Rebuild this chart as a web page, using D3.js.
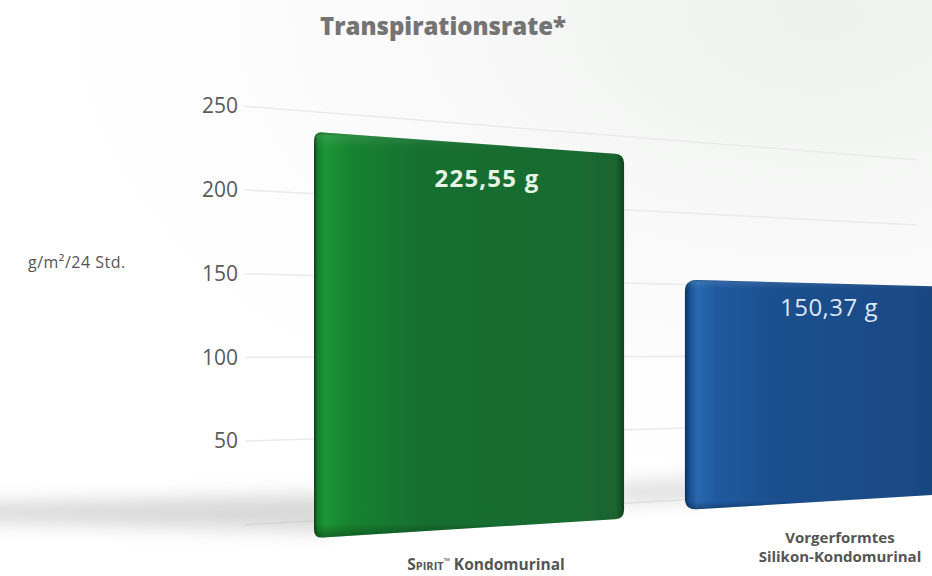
<!DOCTYPE html>
<html><head><meta charset="utf-8">
<script src="https://cdn.jsdelivr.net/npm/d3@7"></script>
<style>body{margin:0;background:#fff;} svg{display:block;}</style>
</head><body><svg id="c" width="932" height="576"></svg>
<script>
// ---- data ----
const categories = ["Spirit Kondomurinal", "Vorgerformtes Silikon-Kondomurinal"];
const values = [225.55, 150.37];
const valueLabels = ["225,55 g", "150,37 g"];
const tickValues = [50, 100, 150, 200, 250];
const gridValues = [0, 50, 100, 150, 200, 250];
const title = "Transpirationsrate*";
const yLabel = "g/m²/24 Std.";

// ---- layout ----
const W = 932, Hh = 576;
const HOR = 350, VPX = 3310, AXIS_X = 242;
const depth = [1.075, 0.914];
const svg = d3.select("#c");
const defs = svg.append("defs");

const y = d3.scaleLinear().domain([0, 250]).range([525, 106]);
const x = d3.scaleBand().domain(categories).range([314, 995]).paddingInner(0.164);

function persp(yAtX0, x0, x1) { return HOR + (yAtX0 - HOR) * (VPX - x1) / (VPX - x0); }

// background
const bg = defs.append("radialGradient").attr("id", "bg").attr("cx", "0.88").attr("cy", "0.02").attr("r", "0.85");
bg.append("stop").attr("offset", "0").attr("stop-color", "#eef0ee");
bg.append("stop").attr("offset", "0.55").attr("stop-color", "#f9faf9");
bg.append("stop").attr("offset", "1").attr("stop-color", "#ffffff");
svg.append("rect").attr("width", W).attr("height", Hh).attr("fill", "url(#bg)");

// blur filter
const blur = defs.append("filter").attr("id", "blur").attr("x", "-50%").attr("y", "-50%").attr("width", "200%").attr("height", "200%");
blur.append("feGaussianBlur").attr("stdDeviation", 9);

// gridlines
svg.append("g").selectAll("line").data(gridValues).join("line")
  .attr("x1", AXIS_X + 3).attr("y1", d => persp(y(d), AXIS_X, AXIS_X + 3))
  .attr("x2", 917).attr("y2", d => persp(y(d), AXIS_X, 917))
  .attr("stroke", "#e9eae9").attr("stroke-width", 1.5);

// tick labels via axis
const axis = svg.append("g").attr("transform", `translate(${AXIS_X},0)`)
  .call(d3.axisLeft(y).tickValues(tickValues).tickSize(0).tickPadding(4));
axis.select(".domain").remove();
axis.selectAll("text").attr("fill", "#5a5a5a").attr("font-size", 21)
  .attr("font-family", "'Open Sans', sans-serif").attr("font-weight", 400);

// floor shadows
svg.append("path")
  .attr("d", "M-30,503 L330,494 L330,532 L-30,522 Z")
  .attr("fill", "#b9b9b9").attr("opacity", 0.55).attr("filter", "url(#blur)");
svg.append("path")
  .attr("d", "M620,482 L700,478 L700,500 L620,505 Z")
  .attr("fill", "#c2c2c2").attr("opacity", 0.5).attr("filter", "url(#blur)");

// bar gradients
const palettes = [
  [["0", "#0d3d18"], ["0.012", "#157f2b"], ["0.035", "#1c9636"], ["0.12", "#178330"], ["0.35", "#166f30"], ["0.85", "#186b31"], ["0.975", "#1a6430"], ["1", "#10421c"]],
  [["0", "#0e2f5a"], ["0.015", "#1a4f8f"], ["0.04", "#2768b0"], ["0.1", "#1f5aa0"], ["0.3", "#1b4f8e"], ["0.7", "#1a4a86"], ["1", "#163e70"]]
];

function roundedPath(pts, r) {
  let d = "";
  const n = pts.length;
  for (let i = 0; i < n; i++) {
    const p0 = pts[(i - 1 + n) % n], p1 = pts[i], p2 = pts[(i + 1) % n];
    const l1 = Math.hypot(p0[0] - p1[0], p0[1] - p1[1]);
    const l2 = Math.hypot(p2[0] - p1[0], p2[1] - p1[1]);
    const a = [p1[0] + (p0[0] - p1[0]) * r / l1, p1[1] + (p0[1] - p1[1]) * r / l1];
    const b = [p1[0] + (p2[0] - p1[0]) * r / l2, p1[1] + (p2[1] - p1[1]) * r / l2];
    d += (i === 0 ? "M" : "L") + a[0] + "," + a[1] + " Q" + p1[0] + "," + p1[1] + " " + b[0] + "," + b[1];
  }
  return d + "Z";
}

const bars = categories.map((c, i) => {
  const xl = x(c), xr = xl + x.bandwidth();
  const f = depth[i];
  const yTopL = HOR + (y(values[i]) - HOR) * f;
  const yBotL = HOR + (y(0) - HOR) * f;
  return {
    i, xl, xr,
    pts: [[xl, yTopL], [xr, persp(yTopL, xl, xr)], [xr, persp(yBotL, xl, xr)], [xl, yBotL]]
  };
});

bars.forEach(b => {
  const g = defs.append("linearGradient").attr("id", "bar" + b.i)
    .attr("gradientUnits", "userSpaceOnUse").attr("x1", b.xl).attr("x2", b.xr).attr("y1", 0).attr("y2", 0);
  palettes[b.i].forEach(s => g.append("stop").attr("offset", s[0]).attr("stop-color", s[1]));
  const v = defs.append("linearGradient").attr("id", "barv" + b.i).attr("x1", 0).attr("x2", 0).attr("y1", 0).attr("y2", 1);
  v.append("stop").attr("offset", "0").attr("stop-color", "#000").attr("stop-opacity", 0.25);
  v.append("stop").attr("offset", "0.012").attr("stop-color", "#fff").attr("stop-opacity", 0.08);
  v.append("stop").attr("offset", "0.04").attr("stop-color", "#fff").attr("stop-opacity", 0);
  v.append("stop").attr("offset", "0.965").attr("stop-color", "#000").attr("stop-opacity", 0);
  v.append("stop").attr("offset", "1").attr("stop-color", "#000").attr("stop-opacity", 0.3);
});

const barG = svg.append("g");
barG.selectAll("path.face").data(bars).join("path").attr("class", "face")
  .attr("d", b => roundedPath(b.pts, b.i === 0 ? 9 : 12))
  .attr("fill", b => `url(#bar${b.i})`);
barG.selectAll("path.shade").data(bars).join("path").attr("class", "shade")
  .attr("d", b => roundedPath(b.pts, b.i === 0 ? 9 : 12))
  .attr("fill", b => `url(#barv${b.i})`);

// value labels
const valuePos = [[487, 187], [829, 316]];
svg.selectAll("text.val").data(valueLabels).join("text").attr("class", "val")
  .attr("x", (d, i) => valuePos[i][0]).attr("y", (d, i) => valuePos[i][1])
  .attr("text-anchor", "middle")
  .attr("font-family", "'Open Sans', sans-serif")
  .attr("font-size", 24)
  .attr("font-weight", (d, i) => i === 0 ? 700 : 400)
  .attr("letter-spacing", (d, i) => i === 0 ? 1.2 : 0.5)
  .attr("fill", (d, i) => i === 0 ? "#e6f4e4" : "#dce7f4")
  .text(d => d);

// title
svg.append("text").attr("x", 443).attr("y", 35).attr("text-anchor", "middle")
  .attr("font-family", "'Open Sans', sans-serif").attr("font-weight", 800).attr("font-size", 24)
  .attr("fill", "#747474").text(title);

// y label
svg.append("text").attr("x", 28).attr("y", 268)
  .attr("font-family", "'Open Sans', sans-serif").attr("font-size", 16).attr("fill", "#555")
  .attr("letter-spacing", 0.5)
  .text(yLabel);

// category labels
const catFont = "'Open Sans', sans-serif";
const c1 = svg.append("text").attr("x", x(categories[0]) + x.bandwidth() / 2 + 17).attr("y", 570)
  .attr("text-anchor", "middle").attr("font-family", catFont).attr("font-weight", 700)
  .attr("font-size", 15.5).attr("fill", "#555");
c1.append("tspan").attr("font-variant", "small-caps").text("Spirit");
c1.append("tspan").attr("font-size", 8).attr("dy", -6).text("™");
c1.append("tspan").attr("dy", 6).text(" Kondomurinal");

const c2 = svg.append("text").attr("text-anchor", "middle").attr("font-family", catFont)
  .attr("font-weight", 700).attr("font-size", 15).attr("fill", "#555");
const cx2 = x(categories[1]) + x.bandwidth() / 2;
c2.append("tspan").attr("x", cx2).attr("y", 543).text("Vorgerformtes");
c2.append("tspan").attr("x", cx2).attr("y", 562).text("Silikon-Kondomurinal");
</script></body></html>
